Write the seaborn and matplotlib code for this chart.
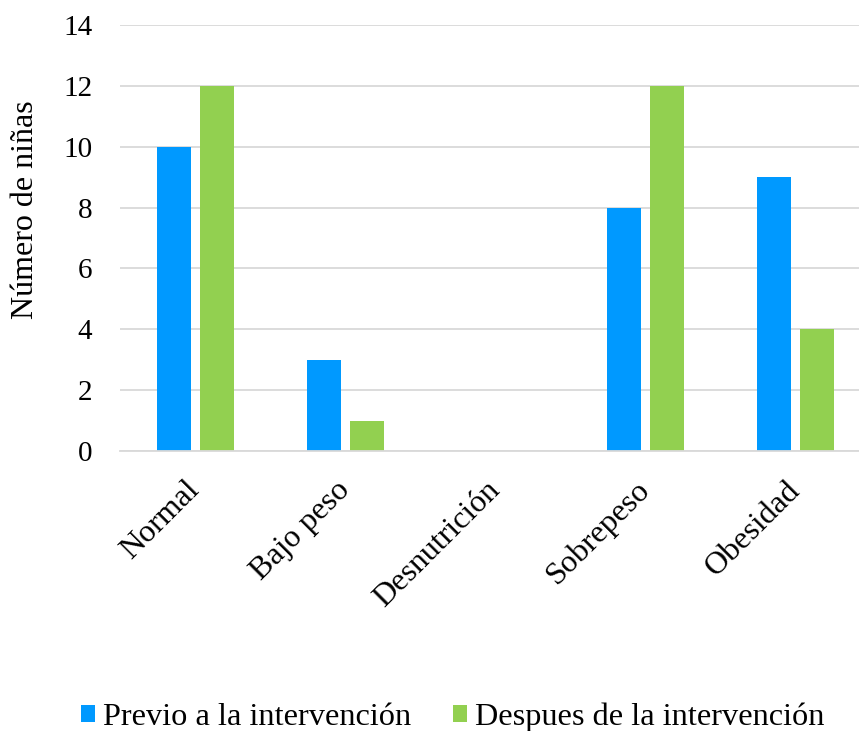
import matplotlib
matplotlib.use("Agg")
import matplotlib.pyplot as plt
import seaborn as sns
import pandas as pd

categorias = ["Normal", "Bajo peso", "Desnutrición", "Sobrepeso", "Obesidad"]
previo = [10, 3, 0, 8, 9]
despues = [12, 1, 0, 12, 4]
series = ["Previo a la intervención", "Despues de la intervención"]
colores = ["#0099FF", "#92D050"]
yticks = [0, 2, 4, 6, 8, 10, 12, 14]

df = pd.DataFrame({
    "categoria": categorias * 2,
    "valor": previo + despues,
    "serie": [series[0]] * len(categorias) + [series[1]] * len(categorias),
})

sns.set_theme(style="white")
plt.rcParams["font.family"] = ["Liberation Serif", "DejaVu Serif"]
plt.rcParams["text.color"] = "black"
plt.rcParams["xtick.color"] = "black"
plt.rcParams["ytick.color"] = "black"
plt.rcParams["axes.labelcolor"] = "black"

fig = plt.figure(figsize=(8.59, 7.31), dpi=100)
ax = fig.add_axes([0.1397, 0.383, 0.874, 0.5828])

sns.barplot(data=df, x="categoria", y="valor", hue="serie", order=categorias,
            hue_order=series, palette=colores, width=0.572, gap=0.21,
            saturation=1, linewidth=0, ax=ax, legend=True)

ax.set_xlim(-0.5, 4.5)
ax.set_ylim(0, 14)
ax.set_yticks(yticks)
ax.set_yticklabels([str(v) for v in yticks], fontsize=21)
ax.yaxis.grid(True, color="#D9D9D9", linewidth=1.3)
ax.set_axisbelow(True)
for s in ["top", "right", "left"]:
    ax.spines[s].set_visible(False)
ax.spines["bottom"].set_color("#D9D9D9")
ax.spines["bottom"].set_linewidth(1.3)
ax.tick_params(axis="both", length=0)
ax.tick_params(axis="y", pad=20)
ax.tick_params(axis="x", pad=25)

ax.set_xlabel("")
ax.set_ylabel("Número de niñas", fontsize=23)
ax.yaxis.set_label_coords(-0.107, 0.566)
ax.set_xticks(range(len(categorias)))
ax.set_xticklabels(categorias, fontsize=23, rotation=45, ha="right",
                   va="center", rotation_mode="anchor")

handles, labels = ax.get_legend_handles_labels()
ax.get_legend().remove()
fig.legend(handles, labels, loc="center", bbox_to_anchor=(0.527, 0.0185),
           ncol=2, frameon=False, fontsize=23.3, handlelength=0.43,
           handleheight=0.43, handletextpad=0.25, columnspacing=1.3,
           borderpad=0, borderaxespad=0)

fig.savefig("out.png", dpi=100)
